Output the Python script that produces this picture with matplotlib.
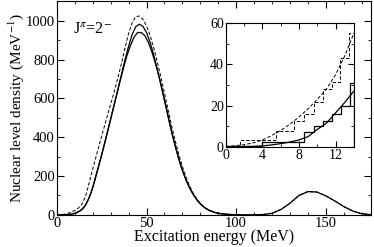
import numpy as np
import matplotlib
matplotlib.use("Agg")
import matplotlib.pyplot as plt
from matplotlib.ticker import MultipleLocator

plt.rcParams["font.family"] = ["Liberation Serif", "DejaVu Serif"]
plt.rcParams["mathtext.fontset"] = "stix"

# excitation energy grid (MeV) for the smooth curves
energy = [0, 2, 4, 6, 8, 10, 12, 14, 16, 18, 20, 22, 24, 26, 28, 30, 32, 34, 36, 38,
          40, 42, 44, 46, 48, 50, 52, 54, 56, 58, 60, 62, 64, 66, 68, 70, 72, 74, 76, 78,
          80, 82, 84, 86, 88, 90, 92, 94, 96, 98, 100,
          105, 110, 115, 120, 125, 130, 135, 140, 145, 150, 155, 160, 165, 170, 175]

rho_dashed = [0.3, 1.1, 3.4, 8, 14.5, 23, 35, 55, 95, 165, 237, 305, 373, 440, 505, 570, 635, 705, 780, 860,
              935, 990, 1022, 1025, 1008, 975, 925, 862, 790, 712, 628, 543, 460, 382, 312, 250, 196, 150, 113, 83,
              60, 42, 29, 20, 13.5, 9, 5.8, 3.6, 2.3, 1.4, 0.8,
              0.3, 0.5, 2, 8, 28, 60, 100, 120, 118, 98, 72, 43, 20, 6, 1.5]

rho_solid = [0, 0.1, 0.5, 1.6, 3.4, 8.5, 16.5, 27, 50, 88, 140, 210, 275, 345, 420, 495, 570, 645, 722, 800,
             868, 930, 970, 983, 972, 940, 890, 825, 752, 672, 590, 508, 428, 355, 289, 230, 181, 140, 106, 78,
             57, 40, 28, 19.5, 13, 8.7, 5.6, 3.5, 2.2, 1.3, 0.8,
             0.3, 0.5, 2, 8, 28, 60, 100, 120, 118, 98, 72, 43, 20, 6, 1.5]

# 2 MeV binned values (bin centres 1, 3, ..., 99 MeV)
bin_centres = np.arange(1, 100, 2)
hist_solid = [0, 0.3, 1, 2.5, 5, 11, 21, 38, 68, 112, 172, 240, 310, 382, 455, 530, 605, 680, 752, 818,
              872, 915, 940, 940, 925, 890, 840, 780, 712, 636, 555, 470, 392, 322, 258, 205, 160, 122, 92, 67,
              48, 34, 23, 16, 10, 7, 4.5, 3, 2, 1]

# inset: low-energy part
e_low = [0, 1, 2, 3, 4, 5, 6, 7, 8, 9, 10, 11, 12, 13, 14]
low_dashed = [0.3, 0.6, 1.1, 2, 3.4, 5.5, 8, 11, 14.5, 18.5, 23, 28, 35, 44, 55]
low_solid = [0, 0.05, 0.1, 0.3, 0.5, 1, 1.6, 2.4, 3.4, 5, 8.5, 11.5, 16.5, 21.5, 27]
low_dashed_edges = [0, 1.5, 5.5, 7.5, 8.6, 9.6, 10.6, 11.6, 12.5, 13.5, 14]
low_dashed_hist = [0.5, 3.5, 7.7, 12.6, 16, 22, 28, 31.5, 43, 55]
low_solid_edges = [0, 4.0, 8.6, 9.6, 10.6, 11.6, 12.6, 13.6, 14]
low_solid_hist = [0.5, 2.6, 7, 10, 12.7, 16, 20, 31]

DASH = (0, (3.5, 2))
fig = plt.figure(figsize=(3.74, 2.47), dpi=100)
ax = fig.add_axes([0.152, 0.130, 0.839, 0.864])
ax.plot(energy, rho_solid, color="black", lw=0.9)
ax.plot(bin_centres, hist_solid, color="black", lw=0.9)
ax.plot(energy, rho_dashed, color="black", lw=0.7, ls=DASH)
ax.set_xlim(0, 175)
ax.set_ylim(0, 1100)
ax.xaxis.set_major_locator(MultipleLocator(50))
ax.xaxis.set_minor_locator(MultipleLocator(10))
ax.yaxis.set_major_locator(MultipleLocator(200))
ax.yaxis.set_minor_locator(MultipleLocator(100))
ax.tick_params(which="both", direction="in", top=True, right=True, labelsize=10.5, pad=1.5)
ax.tick_params(which="major", length=5)
ax.tick_params(which="minor", length=2.5)
ax.set_xlabel("Excitation energy (MeV)", fontsize=11.5, labelpad=-1)
ax.set_ylabel("Nuclear level density (MeV$^{-1}$)", fontsize=11, labelpad=0)
ax.text(8.8, 938, r"J$^{\pi}$=2$^{-}$", fontsize=11.5, va="baseline")

ins = fig.add_axes([0.604, 0.405, 0.342, 0.502])
ins.plot(e_low, low_solid, color="black", lw=0.9)
ins.plot(e_low, low_dashed, color="black", lw=0.7, ls=DASH)
ins.stairs(low_solid_hist, low_solid_edges, color="black", lw=0.9)
ins.stairs(low_dashed_hist, low_dashed_edges, color="black", lw=0.7, ls=DASH)
ins.set_xlim(0, 14)
ins.set_ylim(0, 60)
ins.xaxis.set_major_locator(MultipleLocator(4))
ins.xaxis.set_minor_locator(MultipleLocator(2))
ins.yaxis.set_major_locator(MultipleLocator(20))
ins.yaxis.set_minor_locator(MultipleLocator(10))
ins.tick_params(which="both", direction="in", top=True, right=True, labelsize=10, pad=1.5)
ins.tick_params(which="major", length=4)
ins.tick_params(which="minor", length=2)

fig.savefig("out.png", dpi=100)
